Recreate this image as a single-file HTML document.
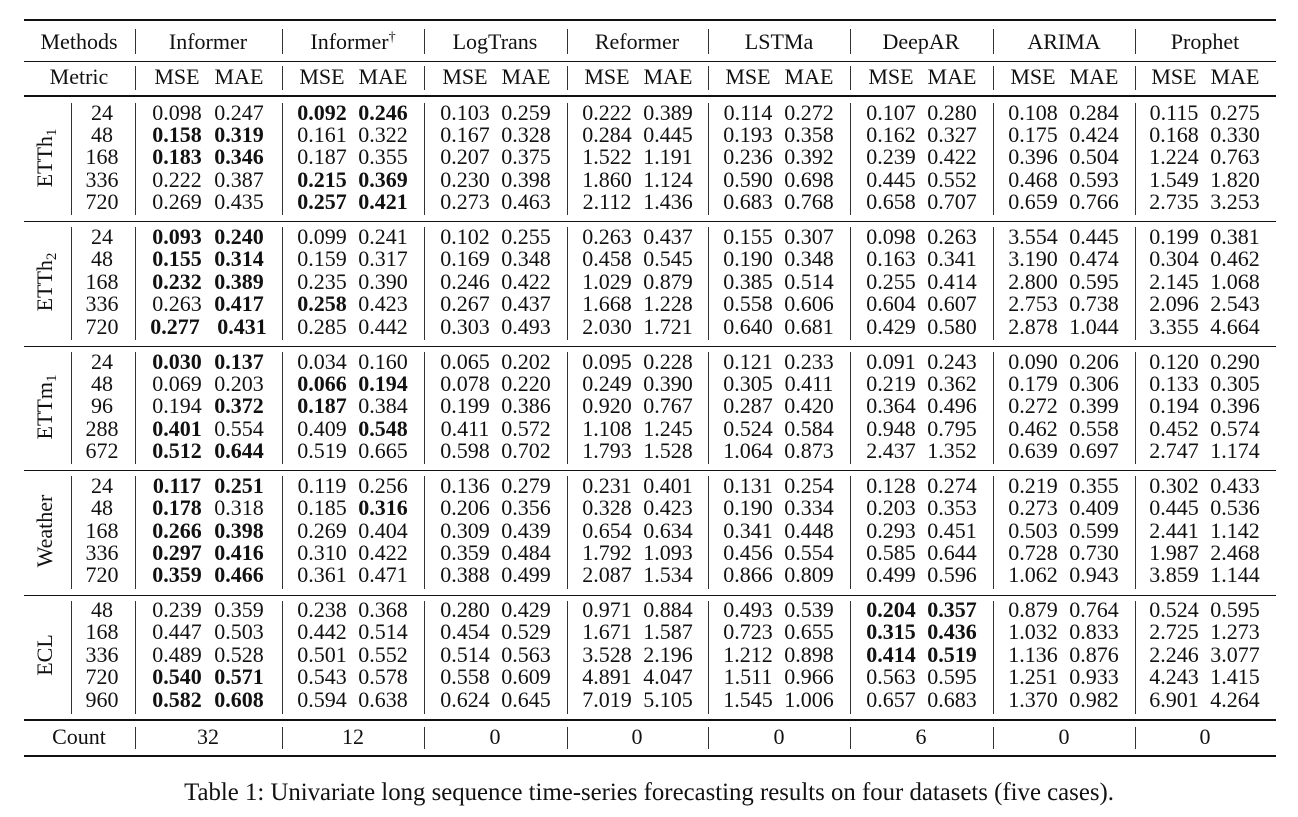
<!DOCTYPE html>
<html><head><meta charset="utf-8"><style>
body{margin:0;background:#fff;}
#w{position:relative;width:1298px;height:817px;overflow:hidden;font-family:"Liberation Serif",serif;font-size:22px;color:#111;}
.h{position:absolute;left:24px;width:1252px;background:#111;}
.v{position:absolute;width:1px;background:#333;}
.r{position:absolute;left:0;width:1298px;height:22px;}
.r span{position:absolute;top:0;width:70px;margin-left:-35px;text-align:center;line-height:22px;white-space:nowrap;}
.r b{font-weight:bold;}
.n{left:102px}
.a1{left:177px}.b1{left:239px}
.a2{left:322px}.b2{left:383px}
.a3{left:465px}.b3{left:526px}
.a4{left:607px}.b4{left:668px}
.a5{left:748px}.b5{left:809px}
.a6{left:891px}.b6{left:952px}
.a7{left:1033px}.b7{left:1094px}
.a8{left:1174px}.b8{left:1235px}
.g{position:absolute;width:200px;margin-left:-100px;text-align:center;line-height:22px;}
.rot{position:absolute;left:45px;width:0;height:0;}
.rot div{position:absolute;transform:translate(-50%,-50%) rotate(-90deg);white-space:nowrap;line-height:22px;}
sub{font-size:15px;vertical-align:-4px;line-height:0}
sup{font-size:14px;vertical-align:8px;line-height:0}
</style></head><body><div id="w">
<div class="h" style="top:19px;height:2px"></div>
<div class="h" style="top:61px;height:1px"></div>
<div class="h" style="top:95px;height:2px"></div>
<div class="h" style="top:221px;height:1px"></div>
<div class="h" style="top:346px;height:1px"></div>
<div class="h" style="top:470px;height:1px"></div>
<div class="h" style="top:595px;height:1px"></div>
<div class="h" style="top:719px;height:2px"></div>
<div class="h" style="top:755px;height:2px"></div>

<div class="v" style="left:135px;top:29px;height:25px"></div><div class="v" style="left:282px;top:29px;height:25px"></div><div class="v" style="left:424px;top:29px;height:25px"></div><div class="v" style="left:567px;top:29px;height:25px"></div><div class="v" style="left:708px;top:29px;height:25px"></div><div class="v" style="left:850px;top:29px;height:25px"></div><div class="v" style="left:993px;top:29px;height:25px"></div><div class="v" style="left:1135px;top:29px;height:25px"></div>
<div class="v" style="left:135px;top:66px;height:24px"></div><div class="v" style="left:282px;top:66px;height:24px"></div><div class="v" style="left:424px;top:66px;height:24px"></div><div class="v" style="left:567px;top:66px;height:24px"></div><div class="v" style="left:708px;top:66px;height:24px"></div><div class="v" style="left:850px;top:66px;height:24px"></div><div class="v" style="left:993px;top:66px;height:24px"></div><div class="v" style="left:1135px;top:66px;height:24px"></div>
<div class="v" style="left:135px;top:727px;height:22px"></div><div class="v" style="left:282px;top:727px;height:22px"></div><div class="v" style="left:424px;top:727px;height:22px"></div><div class="v" style="left:567px;top:727px;height:22px"></div><div class="v" style="left:708px;top:727px;height:22px"></div><div class="v" style="left:850px;top:727px;height:22px"></div><div class="v" style="left:993px;top:727px;height:22px"></div><div class="v" style="left:1135px;top:727px;height:22px"></div>
<div class="v" style="left:71px;top:103px;height:112px"></div><div class="v" style="left:135px;top:103px;height:112px"></div><div class="v" style="left:282px;top:103px;height:112px"></div><div class="v" style="left:424px;top:103px;height:112px"></div><div class="v" style="left:567px;top:103px;height:112px"></div><div class="v" style="left:708px;top:103px;height:112px"></div><div class="v" style="left:850px;top:103px;height:112px"></div><div class="v" style="left:993px;top:103px;height:112px"></div><div class="v" style="left:1135px;top:103px;height:112px"></div>
<div class="v" style="left:71px;top:227px;height:113px"></div><div class="v" style="left:135px;top:227px;height:113px"></div><div class="v" style="left:282px;top:227px;height:113px"></div><div class="v" style="left:424px;top:227px;height:113px"></div><div class="v" style="left:567px;top:227px;height:113px"></div><div class="v" style="left:708px;top:227px;height:113px"></div><div class="v" style="left:850px;top:227px;height:113px"></div><div class="v" style="left:993px;top:227px;height:113px"></div><div class="v" style="left:1135px;top:227px;height:113px"></div>
<div class="v" style="left:71px;top:352px;height:112px"></div><div class="v" style="left:135px;top:352px;height:112px"></div><div class="v" style="left:282px;top:352px;height:112px"></div><div class="v" style="left:424px;top:352px;height:112px"></div><div class="v" style="left:567px;top:352px;height:112px"></div><div class="v" style="left:708px;top:352px;height:112px"></div><div class="v" style="left:850px;top:352px;height:112px"></div><div class="v" style="left:993px;top:352px;height:112px"></div><div class="v" style="left:1135px;top:352px;height:112px"></div>
<div class="v" style="left:71px;top:476px;height:113px"></div><div class="v" style="left:135px;top:476px;height:113px"></div><div class="v" style="left:282px;top:476px;height:113px"></div><div class="v" style="left:424px;top:476px;height:113px"></div><div class="v" style="left:567px;top:476px;height:113px"></div><div class="v" style="left:708px;top:476px;height:113px"></div><div class="v" style="left:850px;top:476px;height:113px"></div><div class="v" style="left:993px;top:476px;height:113px"></div><div class="v" style="left:1135px;top:476px;height:113px"></div>
<div class="v" style="left:71px;top:601px;height:113px"></div><div class="v" style="left:135px;top:601px;height:113px"></div><div class="v" style="left:282px;top:601px;height:113px"></div><div class="v" style="left:424px;top:601px;height:113px"></div><div class="v" style="left:567px;top:601px;height:113px"></div><div class="v" style="left:708px;top:601px;height:113px"></div><div class="v" style="left:850px;top:601px;height:113px"></div><div class="v" style="left:993px;top:601px;height:113px"></div><div class="v" style="left:1135px;top:601px;height:113px"></div>

<div class="g" style="left:79px;top:31px">Methods</div>
<div class="g" style="left:208px;top:31px">Informer</div>
<div class="g" style="left:353px;top:31px">Informer<sup>†</sup></div>
<div class="g" style="left:495px;top:31px">LogTrans</div>
<div class="g" style="left:637px;top:31px">Reformer</div>
<div class="g" style="left:779px;top:31px">LSTMa</div>
<div class="g" style="left:921px;top:31px">DeepAR</div>
<div class="g" style="left:1064px;top:31px">ARIMA</div>
<div class="g" style="left:1205px;top:31px">Prophet</div>
<div class="r" style="top:66px"><span style="left:79px;width:100px;margin-left:-50px">Metric</span><span class="a1">MSE</span><span class="b1">MAE</span><span class="a2">MSE</span><span class="b2">MAE</span><span class="a3">MSE</span><span class="b3">MAE</span><span class="a4">MSE</span><span class="b4">MAE</span><span class="a5">MSE</span><span class="b5">MAE</span><span class="a6">MSE</span><span class="b6">MAE</span><span class="a7">MSE</span><span class="b7">MAE</span><span class="a8">MSE</span><span class="b8">MAE</span></div>

<div class="rot" style="top:158px"><div>ETTh<sub>1</sub></div></div>
<div class="rot" style="top:282px"><div>ETTh<sub>2</sub></div></div>
<div class="rot" style="top:407px"><div>ETTm<sub>1</sub></div></div>
<div class="rot" style="top:531px"><div>Weather</div></div>
<div class="rot" style="top:655px"><div>ECL</div></div>

<div class="r" style="top:102px"><span class="n">24</span><span class="a1">0.098</span><span class="b1">0.247</span><span class="a2"><b>0.092</b></span><span class="b2"><b>0.246</b></span><span class="a3">0.103</span><span class="b3">0.259</span><span class="a4">0.222</span><span class="b4">0.389</span><span class="a5">0.114</span><span class="b5">0.272</span><span class="a6">0.107</span><span class="b6">0.280</span><span class="a7">0.108</span><span class="b7">0.284</span><span class="a8">0.115</span><span class="b8">0.275</span></div>
<div class="r" style="top:124px"><span class="n">48</span><span class="a1"><b>0.158</b></span><span class="b1"><b>0.319</b></span><span class="a2">0.161</span><span class="b2">0.322</span><span class="a3">0.167</span><span class="b3">0.328</span><span class="a4">0.284</span><span class="b4">0.445</span><span class="a5">0.193</span><span class="b5">0.358</span><span class="a6">0.162</span><span class="b6">0.327</span><span class="a7">0.175</span><span class="b7">0.424</span><span class="a8">0.168</span><span class="b8">0.330</span></div>
<div class="r" style="top:146px"><span class="n">168</span><span class="a1"><b>0.183</b></span><span class="b1"><b>0.346</b></span><span class="a2">0.187</span><span class="b2">0.355</span><span class="a3">0.207</span><span class="b3">0.375</span><span class="a4">1.522</span><span class="b4">1.191</span><span class="a5">0.236</span><span class="b5">0.392</span><span class="a6">0.239</span><span class="b6">0.422</span><span class="a7">0.396</span><span class="b7">0.504</span><span class="a8">1.224</span><span class="b8">0.763</span></div>
<div class="r" style="top:169px"><span class="n">336</span><span class="a1">0.222</span><span class="b1">0.387</span><span class="a2"><b>0.215</b></span><span class="b2"><b>0.369</b></span><span class="a3">0.230</span><span class="b3">0.398</span><span class="a4">1.860</span><span class="b4">1.124</span><span class="a5">0.590</span><span class="b5">0.698</span><span class="a6">0.445</span><span class="b6">0.552</span><span class="a7">0.468</span><span class="b7">0.593</span><span class="a8">1.549</span><span class="b8">1.820</span></div>
<div class="r" style="top:191px"><span class="n">720</span><span class="a1">0.269</span><span class="b1">0.435</span><span class="a2"><b>0.257</b></span><span class="b2"><b>0.421</b></span><span class="a3">0.273</span><span class="b3">0.463</span><span class="a4">2.112</span><span class="b4">1.436</span><span class="a5">0.683</span><span class="b5">0.768</span><span class="a6">0.658</span><span class="b6">0.707</span><span class="a7">0.659</span><span class="b7">0.766</span><span class="a8">2.735</span><span class="b8">3.253</span></div>

<div class="r" style="top:226px"><span class="n">24</span><span class="a1"><b>0.093</b></span><span class="b1"><b>0.240</b></span><span class="a2">0.099</span><span class="b2">0.241</span><span class="a3">0.102</span><span class="b3">0.255</span><span class="a4">0.263</span><span class="b4">0.437</span><span class="a5">0.155</span><span class="b5">0.307</span><span class="a6">0.098</span><span class="b6">0.263</span><span class="a7">3.554</span><span class="b7">0.445</span><span class="a8">0.199</span><span class="b8">0.381</span></div>
<div class="r" style="top:248px"><span class="n">48</span><span class="a1"><b>0.155</b></span><span class="b1"><b>0.314</b></span><span class="a2">0.159</span><span class="b2">0.317</span><span class="a3">0.169</span><span class="b3">0.348</span><span class="a4">0.458</span><span class="b4">0.545</span><span class="a5">0.190</span><span class="b5">0.348</span><span class="a6">0.163</span><span class="b6">0.341</span><span class="a7">3.190</span><span class="b7">0.474</span><span class="a8">0.304</span><span class="b8">0.462</span></div>
<div class="r" style="top:271px"><span class="n">168</span><span class="a1"><b>0.232</b></span><span class="b1"><b>0.389</b></span><span class="a2">0.235</span><span class="b2">0.390</span><span class="a3">0.246</span><span class="b3">0.422</span><span class="a4">1.029</span><span class="b4">0.879</span><span class="a5">0.385</span><span class="b5">0.514</span><span class="a6">0.255</span><span class="b6">0.414</span><span class="a7">2.800</span><span class="b7">0.595</span><span class="a8">2.145</span><span class="b8">1.068</span></div>
<div class="r" style="top:293px"><span class="n">336</span><span class="a1">0.263</span><span class="b1"><b>0.417</b></span><span class="a2"><b>0.258</b></span><span class="b2">0.423</span><span class="a3">0.267</span><span class="b3">0.437</span><span class="a4">1.668</span><span class="b4">1.228</span><span class="a5">0.558</span><span class="b5">0.606</span><span class="a6">0.604</span><span class="b6">0.607</span><span class="a7">2.753</span><span class="b7">0.738</span><span class="a8">2.096</span><span class="b8">2.543</span></div>
<div class="r" style="top:316px"><span class="n">720</span><span class="a1" style="left:175px"><b>0.277</b></span><span class="b1" style="left:242px"><b>0.431</b></span><span class="a2">0.285</span><span class="b2">0.442</span><span class="a3">0.303</span><span class="b3">0.493</span><span class="a4">2.030</span><span class="b4">1.721</span><span class="a5">0.640</span><span class="b5">0.681</span><span class="a6">0.429</span><span class="b6">0.580</span><span class="a7">2.878</span><span class="b7">1.044</span><span class="a8">3.355</span><span class="b8">4.664</span></div>

<div class="r" style="top:351px"><span class="n">24</span><span class="a1"><b>0.030</b></span><span class="b1"><b>0.137</b></span><span class="a2">0.034</span><span class="b2">0.160</span><span class="a3">0.065</span><span class="b3">0.202</span><span class="a4">0.095</span><span class="b4">0.228</span><span class="a5">0.121</span><span class="b5">0.233</span><span class="a6">0.091</span><span class="b6">0.243</span><span class="a7">0.090</span><span class="b7">0.206</span><span class="a8">0.120</span><span class="b8">0.290</span></div>
<div class="r" style="top:373px"><span class="n">48</span><span class="a1">0.069</span><span class="b1">0.203</span><span class="a2"><b>0.066</b></span><span class="b2"><b>0.194</b></span><span class="a3">0.078</span><span class="b3">0.220</span><span class="a4">0.249</span><span class="b4">0.390</span><span class="a5">0.305</span><span class="b5">0.411</span><span class="a6">0.219</span><span class="b6">0.362</span><span class="a7">0.179</span><span class="b7">0.306</span><span class="a8">0.133</span><span class="b8">0.305</span></div>
<div class="r" style="top:395px"><span class="n">96</span><span class="a1">0.194</span><span class="b1"><b>0.372</b></span><span class="a2"><b>0.187</b></span><span class="b2">0.384</span><span class="a3">0.199</span><span class="b3">0.386</span><span class="a4">0.920</span><span class="b4">0.767</span><span class="a5">0.287</span><span class="b5">0.420</span><span class="a6">0.364</span><span class="b6">0.496</span><span class="a7">0.272</span><span class="b7">0.399</span><span class="a8">0.194</span><span class="b8">0.396</span></div>
<div class="r" style="top:418px"><span class="n">288</span><span class="a1"><b>0.401</b></span><span class="b1">0.554</span><span class="a2">0.409</span><span class="b2"><b>0.548</b></span><span class="a3">0.411</span><span class="b3">0.572</span><span class="a4">1.108</span><span class="b4">1.245</span><span class="a5">0.524</span><span class="b5">0.584</span><span class="a6">0.948</span><span class="b6">0.795</span><span class="a7">0.462</span><span class="b7">0.558</span><span class="a8">0.452</span><span class="b8">0.574</span></div>
<div class="r" style="top:440px"><span class="n">672</span><span class="a1"><b>0.512</b></span><span class="b1"><b>0.644</b></span><span class="a2">0.519</span><span class="b2">0.665</span><span class="a3">0.598</span><span class="b3">0.702</span><span class="a4">1.793</span><span class="b4">1.528</span><span class="a5">1.064</span><span class="b5">0.873</span><span class="a6">2.437</span><span class="b6">1.352</span><span class="a7">0.639</span><span class="b7">0.697</span><span class="a8">2.747</span><span class="b8">1.174</span></div>

<div class="r" style="top:475px"><span class="n">24</span><span class="a1"><b>0.117</b></span><span class="b1"><b>0.251</b></span><span class="a2">0.119</span><span class="b2">0.256</span><span class="a3">0.136</span><span class="b3">0.279</span><span class="a4">0.231</span><span class="b4">0.401</span><span class="a5">0.131</span><span class="b5">0.254</span><span class="a6">0.128</span><span class="b6">0.274</span><span class="a7">0.219</span><span class="b7">0.355</span><span class="a8">0.302</span><span class="b8">0.433</span></div>
<div class="r" style="top:497px"><span class="n">48</span><span class="a1"><b>0.178</b></span><span class="b1">0.318</span><span class="a2">0.185</span><span class="b2"><b>0.316</b></span><span class="a3">0.206</span><span class="b3">0.356</span><span class="a4">0.328</span><span class="b4">0.423</span><span class="a5">0.190</span><span class="b5">0.334</span><span class="a6">0.203</span><span class="b6">0.353</span><span class="a7">0.273</span><span class="b7">0.409</span><span class="a8">0.445</span><span class="b8">0.536</span></div>
<div class="r" style="top:520px"><span class="n">168</span><span class="a1"><b>0.266</b></span><span class="b1"><b>0.398</b></span><span class="a2">0.269</span><span class="b2">0.404</span><span class="a3">0.309</span><span class="b3">0.439</span><span class="a4">0.654</span><span class="b4">0.634</span><span class="a5">0.341</span><span class="b5">0.448</span><span class="a6">0.293</span><span class="b6">0.451</span><span class="a7">0.503</span><span class="b7">0.599</span><span class="a8">2.441</span><span class="b8">1.142</span></div>
<div class="r" style="top:542px"><span class="n">336</span><span class="a1"><b>0.297</b></span><span class="b1"><b>0.416</b></span><span class="a2">0.310</span><span class="b2">0.422</span><span class="a3">0.359</span><span class="b3">0.484</span><span class="a4">1.792</span><span class="b4">1.093</span><span class="a5">0.456</span><span class="b5">0.554</span><span class="a6">0.585</span><span class="b6">0.644</span><span class="a7">0.728</span><span class="b7">0.730</span><span class="a8">1.987</span><span class="b8">2.468</span></div>
<div class="r" style="top:564px"><span class="n">720</span><span class="a1"><b>0.359</b></span><span class="b1"><b>0.466</b></span><span class="a2">0.361</span><span class="b2">0.471</span><span class="a3">0.388</span><span class="b3">0.499</span><span class="a4">2.087</span><span class="b4">1.534</span><span class="a5">0.866</span><span class="b5">0.809</span><span class="a6">0.499</span><span class="b6">0.596</span><span class="a7">1.062</span><span class="b7">0.943</span><span class="a8">3.859</span><span class="b8">1.144</span></div>

<div class="r" style="top:599px"><span class="n">48</span><span class="a1">0.239</span><span class="b1">0.359</span><span class="a2">0.238</span><span class="b2">0.368</span><span class="a3">0.280</span><span class="b3">0.429</span><span class="a4">0.971</span><span class="b4">0.884</span><span class="a5">0.493</span><span class="b5">0.539</span><span class="a6"><b>0.204</b></span><span class="b6"><b>0.357</b></span><span class="a7">0.879</span><span class="b7">0.764</span><span class="a8">0.524</span><span class="b8">0.595</span></div>
<div class="r" style="top:621px"><span class="n">168</span><span class="a1">0.447</span><span class="b1">0.503</span><span class="a2">0.442</span><span class="b2">0.514</span><span class="a3">0.454</span><span class="b3">0.529</span><span class="a4">1.671</span><span class="b4">1.587</span><span class="a5">0.723</span><span class="b5">0.655</span><span class="a6"><b>0.315</b></span><span class="b6"><b>0.436</b></span><span class="a7">1.032</span><span class="b7">0.833</span><span class="a8">2.725</span><span class="b8">1.273</span></div>
<div class="r" style="top:644px"><span class="n">336</span><span class="a1">0.489</span><span class="b1">0.528</span><span class="a2">0.501</span><span class="b2">0.552</span><span class="a3">0.514</span><span class="b3">0.563</span><span class="a4">3.528</span><span class="b4">2.196</span><span class="a5">1.212</span><span class="b5">0.898</span><span class="a6"><b>0.414</b></span><span class="b6"><b>0.519</b></span><span class="a7">1.136</span><span class="b7">0.876</span><span class="a8">2.246</span><span class="b8">3.077</span></div>
<div class="r" style="top:666px"><span class="n">720</span><span class="a1"><b>0.540</b></span><span class="b1"><b>0.571</b></span><span class="a2">0.543</span><span class="b2">0.578</span><span class="a3">0.558</span><span class="b3">0.609</span><span class="a4">4.891</span><span class="b4">4.047</span><span class="a5">1.511</span><span class="b5">0.966</span><span class="a6">0.563</span><span class="b6">0.595</span><span class="a7">1.251</span><span class="b7">0.933</span><span class="a8">4.243</span><span class="b8">1.415</span></div>
<div class="r" style="top:689px"><span class="n">960</span><span class="a1"><b>0.582</b></span><span class="b1"><b>0.608</b></span><span class="a2">0.594</span><span class="b2">0.638</span><span class="a3">0.624</span><span class="b3">0.645</span><span class="a4">7.019</span><span class="b4">5.105</span><span class="a5">1.545</span><span class="b5">1.006</span><span class="a6">0.657</span><span class="b6">0.683</span><span class="a7">1.370</span><span class="b7">0.982</span><span class="a8">6.901</span><span class="b8">4.264</span></div>

<div class="g" style="left:79px;top:726px">Count</div>
<div class="g" style="left:208px;top:726px">32</div>
<div class="g" style="left:353px;top:726px">12</div>
<div class="g" style="left:495px;top:726px">0</div>
<div class="g" style="left:637px;top:726px">0</div>
<div class="g" style="left:779px;top:726px">0</div>
<div class="g" style="left:921px;top:726px">6</div>
<div class="g" style="left:1064px;top:726px">0</div>
<div class="g" style="left:1205px;top:726px">0</div>

<div style="position:absolute;left:0;width:1298px;top:780px;text-align:center;line-height:26px;font-size:24.8px;">Table 1: Univariate long sequence time-series forecasting results on four datasets (five cases).</div>
</div></body></html>
